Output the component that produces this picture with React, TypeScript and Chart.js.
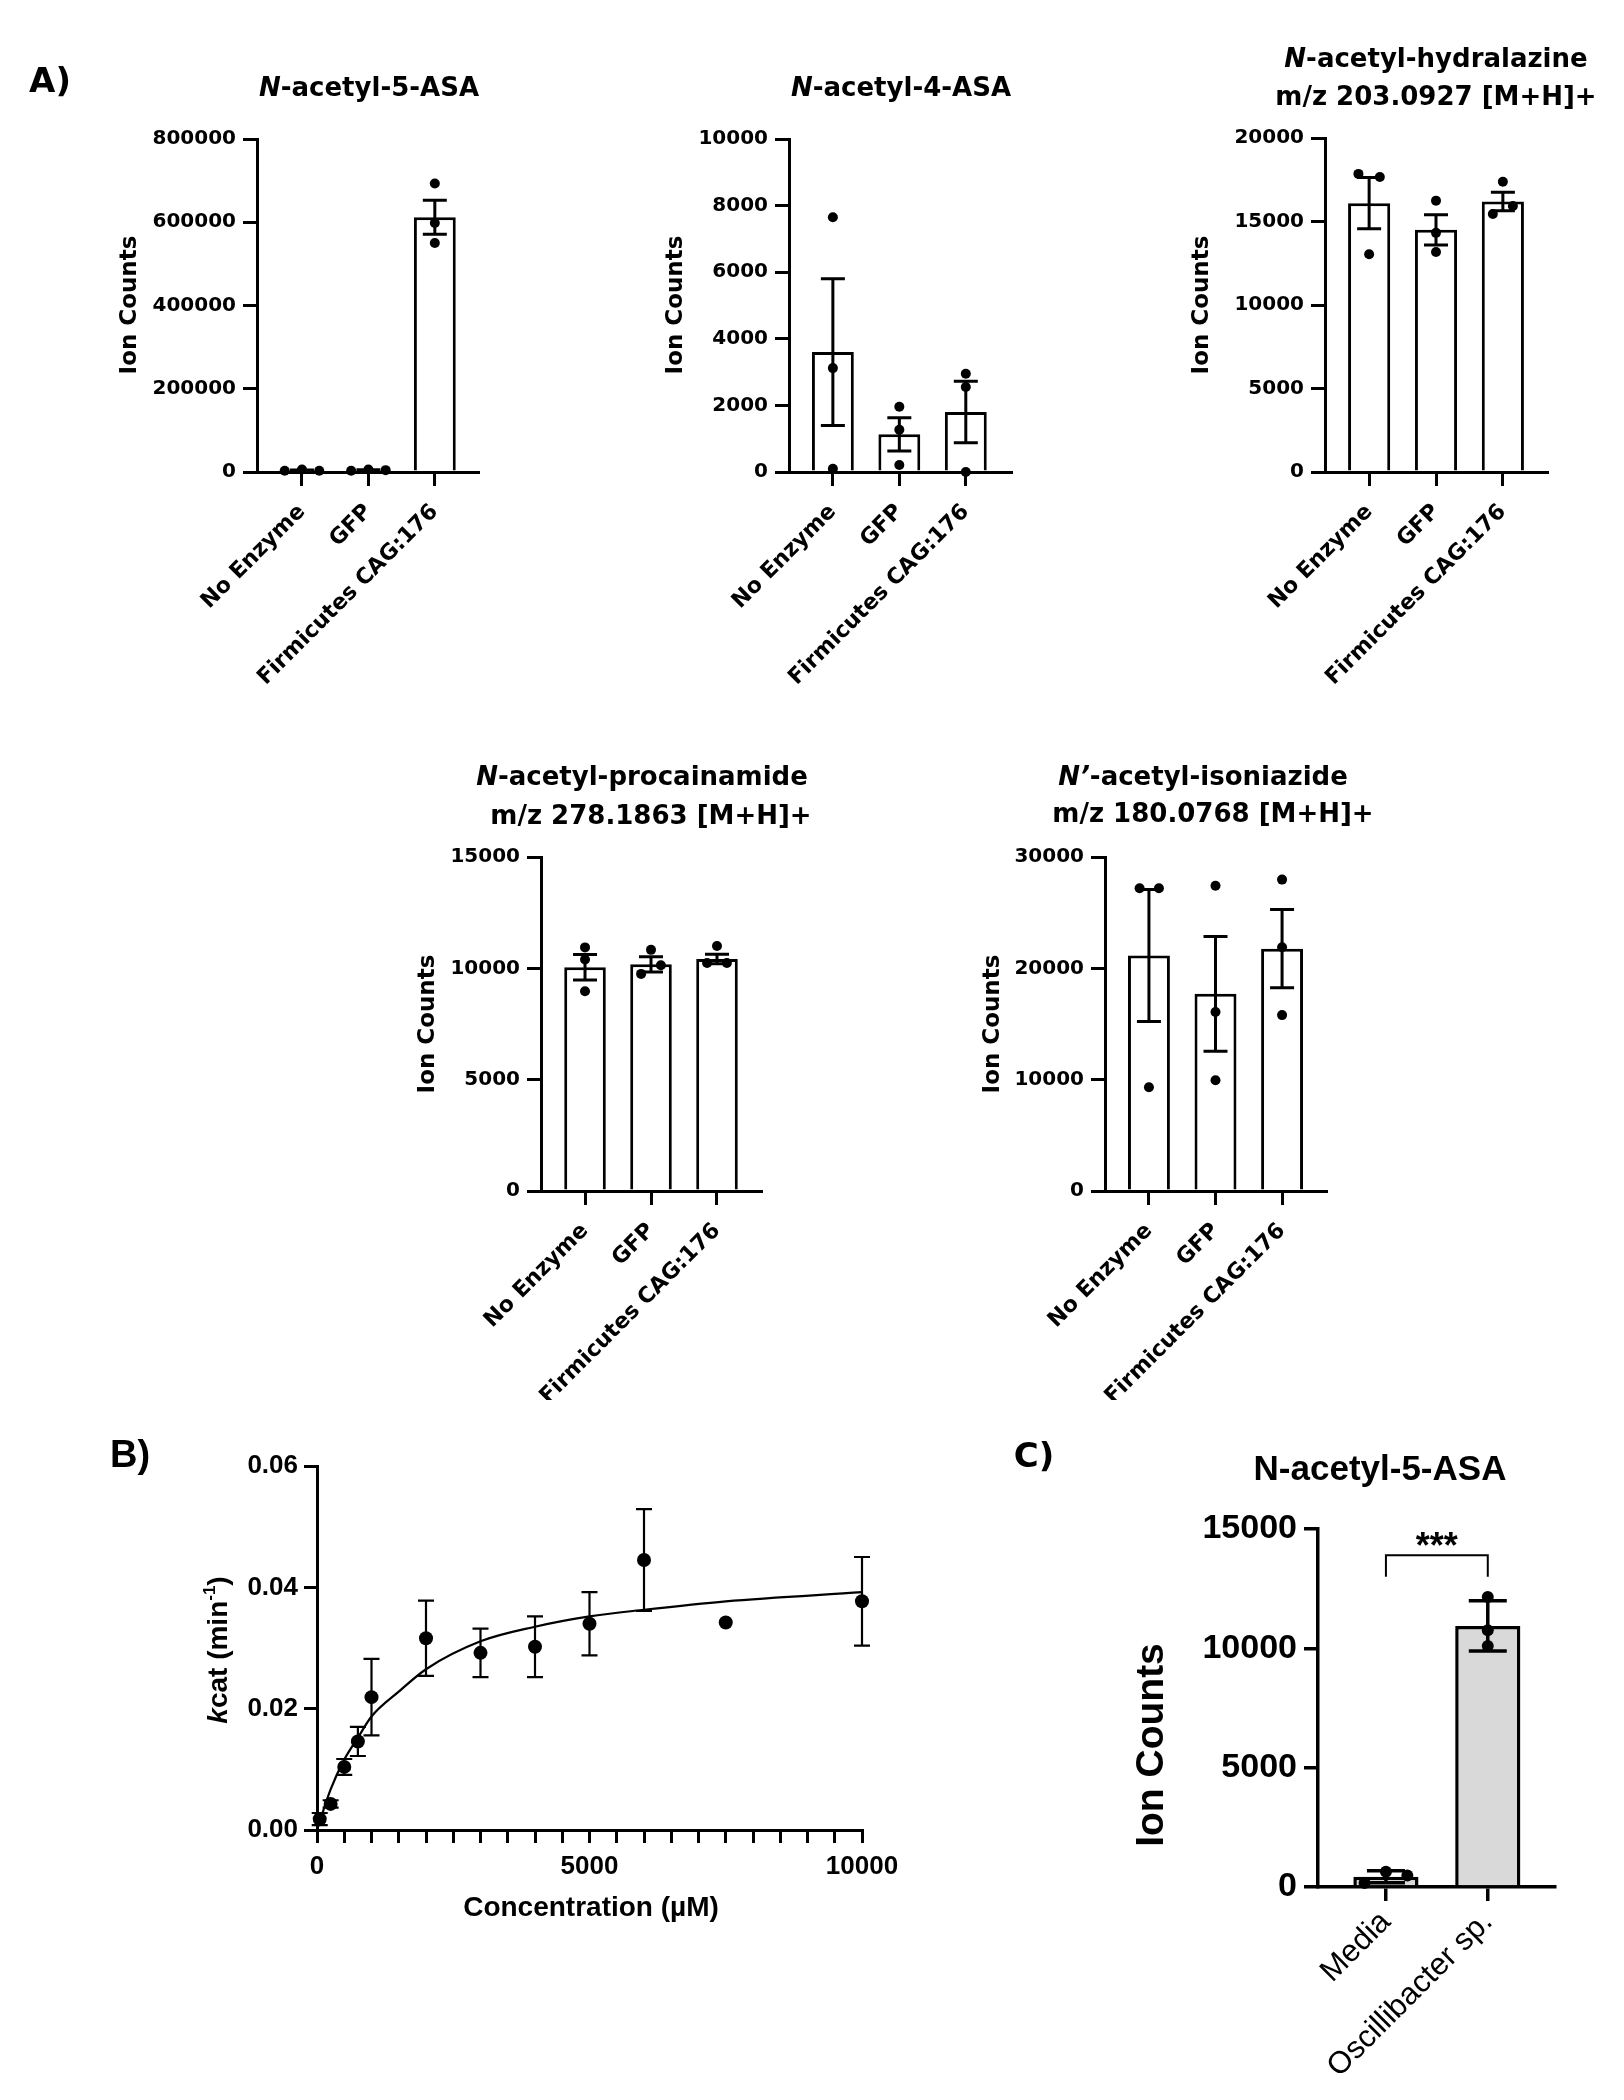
import React, { useEffect, useRef } from 'react';
import { Chart, registerables } from 'chart.js';

Chart.register(...registerables);

const WIDE = '"DejaVu Sans", Verdana, sans-serif';
const ARIAL = '"Liberation Sans", Arial, Helvetica, sans-serif';

// ---------------- Panel A data ----------------
const groups = ['No Enzyme', 'GFP', 'Firmicutes CAG:176'];

const asa5Mean = [4000, 4500, 612000];
const asa5Sem = [1100, 900, 41000];
const asa5Pts = [[2800, 6200, 3000], [3000, 6000, 4500], [693000, 598000, 550000]];
const asa5Jit = [[-0.26, 0, 0.26], [-0.26, 0, 0.26], [0, 0, 0]];
const asa5Axis = [800000, 200000];

const asa4Mean = [3600, 1130, 1800];
const asa4Sem = [2200, 500, 925];
const asa4Pts = [[7650, 3120, 100], [1960, 1270, 210], [2950, 2550, 0]];
const asa4Jit = [[0, 0, 0], [0, 0, 0], [0, 0, 0]];
const asa4Axis = [10000, 2000];

const hydMean = [16100, 14500, 16200];
const hydSem = [1540, 900, 550];
const hydPts = [[17850, 17670, 13040], [16250, 14320, 13170], [17380, 15930, 15450]];
const hydJit = [[-0.16, 0.16, 0], [0, 0, 0], [0, 0.15, -0.15]];
const hydAxis = [20000, 5000];

const procMean = [10050, 10180, 10420];
const procSem = [575, 340, 215];
const procPts = [[10940, 10400, 8970], [10830, 10140, 9750], [11000, 10240, 10240]];
const procJit = [[0, 0, 0], [0, 0.15, -0.15], [0, -0.15, 0.15]];
const procAxis = [15000, 5000];

const isoMean = [21150, 17710, 21770];
const isoSem = [5930, 5150, 3510];
const isoPts = [[27190, 27190, 9320], [27420, 16070, 9950], [27970, 21890, 15800]];
const isoJit = [[-0.14, 0.15, 0], [0, 0, 0], [0, 0, 0]];
const isoAxis = [30000, 10000];

// ---------------- Panel B data ----------------
const concUM = [50, 250, 500, 750, 1000, 2000, 3000, 4000, 5000, 6000, 7500, 10000];
const kcatVal = [0.0018, 0.0043, 0.0104, 0.0146, 0.0219, 0.0316, 0.0292, 0.0302, 0.034, 0.0445, 0.0342, 0.0377];
const kcatErr = [0.001, 0.0006, 0.0013, 0.0024, 0.0063, 0.0062, 0.004, 0.005, 0.0052, 0.0084, 0, 0.0073];
const fitConc = [0, 250, 500, 750, 1000, 1500, 2000, 3000, 4000, 5000, 6000, 7500, 10000];
const fitKcat = [0, 0.0067, 0.0116, 0.0152, 0.0187, 0.0228, 0.0265, 0.0311, 0.0335, 0.0352, 0.0363, 0.0377, 0.0392];
const bXAxis = [10000, 500, 5000];
const bYAxis = [0.06, 0.02];

// ---------------- Panel C data ----------------
const cGroups = ['Media', 'Oscillibacter sp.'];
const cMean = [430, 10940];
const cSd = [250, 1050];
const cPts = [[170, 640, 480], [12150, 10760, 10100]];
const cJit = [[-0.21, 0, 0.21], [0, 0, 0]];
const cAxis = [15000, 5000];
const cBracket = [13000, 13900];
const cSignif = '***';

// ---------------- helpers ----------------
type Run = { t: string; it?: boolean; sup?: boolean };
type TextSpec = {
  runs: Run[];
  x: number;
  y: number;
  size: number;
  family: string;
  weight?: string;
  rot?: number;
};

function drawText(ctx: CanvasRenderingContext2D, s: TextSpec, ox: number, oy: number) {
  const fontOf = (r: Run) =>
    `${r.it ? 'italic ' : ''}${s.weight ?? 'bold'} ${r.sup ? Math.round(s.size * 0.62) : s.size}px ${s.family}`;
  let total = 0;
  const widths = s.runs.map((r) => {
    ctx.font = fontOf(r);
    const w = ctx.measureText(r.t).width;
    total += w;
    return w;
  });
  ctx.save();
  ctx.translate(s.x - ox, s.y - oy);
  if (s.rot) ctx.rotate(s.rot);
  ctx.fillStyle = '#000';
  ctx.textBaseline = 'alphabetic';
  ctx.textAlign = 'left';
  let x = -total / 2;
  const base = s.size * 0.36;
  s.runs.forEach((r, i) => {
    ctx.font = fontOf(r);
    ctx.fillText(r.t, x, r.sup ? base - s.size * 0.42 : base);
    x += widths[i];
  });
  ctx.restore();
}

type Box = [number, number, number, number];
type Area = [number, number, number, number];

function textPlugin(texts: TextSpec[], box: Box, extra?: (chart: any) => void) {
  return {
    id: 'texts',
    afterDraw(chart: any) {
      const ctx = chart.ctx as CanvasRenderingContext2D;
      texts.forEach((t) => drawText(ctx, t, box[0], box[1]));
      if (extra) extra(chart);
    },
  };
}

function errPlugin(xs: number[], means: number[], err: number[], lw: number, capHalf: number) {
  return {
    id: 'errbars',
    afterDatasetsDraw(chart: any) {
      const { ctx } = chart;
      const x = chart.scales.x;
      const y = chart.scales.y;
      ctx.save();
      ctx.strokeStyle = '#000';
      ctx.lineWidth = lw;
      ctx.lineCap = 'butt';
      means.forEach((m, i) => {
        const e = err[i];
        if (!e) return;
        const px = x.getPixelForValue(xs[i]);
        const top = y.getPixelForValue(m + e);
        const bot = y.getPixelForValue(m - e);
        ctx.beginPath();
        ctx.moveTo(px, top);
        ctx.lineTo(px, bot);
        ctx.moveTo(px - capHalf, top);
        ctx.lineTo(px + capHalf, top);
        ctx.moveTo(px - capHalf, bot);
        ctx.lineTo(px + capHalf, bot);
        ctx.stroke();
      });
      ctx.restore();
    },
  };
}

type BarSpec = {
  box: Box;
  area: Area;
  xRange: [number, number];
  labels: string[];
  means: number[];
  err: number[];
  pts: number[][];
  jit: number[][];
  axis: number[];
  fill: string;
  family: string;
  tickSize: number;
  labelSize: number;
  labelWeight: string;
  labelPad: number;
  barPct: number;
  lw: number;
  r: number;
  capHalf: number;
  tickLen: number;
  texts: TextSpec[];
  extra?: (chart: any) => void;
};

function barConfig(p: BarSpec): any {
  const [bx, by, bw, bh] = p.box;
  const [l, t, r, b] = p.area;
  const pts: { x: number; y: number }[] = [];
  p.pts.forEach((arr, i) => arr.forEach((v, j) => pts.push({ x: i + p.jit[i][j], y: v })));
  const idx = p.means.map((_, i) => i);
  return {
    type: 'bar',
    data: {
      datasets: [
        {
          type: 'scatter',
          data: pts,
          backgroundColor: '#000',
          borderColor: '#000',
          borderWidth: 0,
          pointRadius: p.r,
          pointHoverRadius: p.r,
          order: 0,
          clip: false,
        },
        {
          type: 'bar',
          data: p.means.map((m, i) => ({ x: i, y: m })),
          backgroundColor: p.fill,
          borderColor: '#000',
          borderWidth: p.lw,
          categoryPercentage: 1,
          barPercentage: p.barPct,
          order: 1,
          clip: false,
        },
      ],
    },
    options: {
      animation: false,
      responsive: false,
      devicePixelRatio: 1,
      events: [],
      layout: { padding: { left: 0, top: t - by, right: bx + bw - r, bottom: 0 } },
      plugins: { legend: { display: false }, tooltip: { enabled: false }, title: { display: false } },
      scales: {
        x: {
          type: 'linear',
          min: p.xRange[0],
          max: p.xRange[1],
          offset: false,
          afterBuildTicks: (s: any) => {
            s.ticks = p.labels.map((_, i) => ({ value: i }));
          },
          afterFit: (s: any) => {
            s.height = by + bh - b;
          },
          grid: {
            offset: false,
            drawOnChartArea: false,
            drawTicks: true,
            tickLength: p.tickLen,
            color: '#000',
            lineWidth: p.lw,
          },
          border: { display: true, color: '#000', width: p.lw },
          ticks: {
            autoSkip: false,
            maxRotation: 45,
            minRotation: 45,
            padding: p.labelPad,
            color: '#000',
            font: { family: p.family, size: p.labelSize, weight: p.labelWeight },
            callback: (v: any) => (idx.includes(v) ? p.labels[v] : ''),
          },
        },
        y: {
          type: 'linear',
          min: 0,
          max: p.axis[0],
          afterFit: (s: any) => {
            s.width = l - bx;
          },
          grid: {
            drawOnChartArea: false,
            drawTicks: true,
            tickLength: p.tickLen,
            color: '#000',
            lineWidth: p.lw,
          },
          border: { display: true, color: '#000', width: p.lw },
          ticks: {
            stepSize: p.axis[1],
            padding: 7,
            color: '#000',
            font: { family: p.family, size: p.tickSize, weight: 'bold' },
            callback: (v: any) => String(v),
          },
        },
      },
    },
    plugins: [errPlugin(idx, p.means, p.err, p.lw, p.capHalf), textPlugin(p.texts, p.box, p.extra)],
  };
}

const titleRuns = (lead: string, rest: string): Run[] => [{ t: lead, it: true }, { t: rest }];
const ionLabel = (x: number, y: number, size = 23, family = WIDE): TextSpec => ({
  runs: [{ t: 'Ion Counts' }],
  x,
  y,
  size,
  family,
  rot: -Math.PI / 2,
});
const TS = 26;

const commonA = {
  labels: groups,
  fill: '#ffffff',
  family: WIDE,
  tickSize: 20,
  labelSize: 22,
  labelWeight: 'bold',
  labelPad: 13,
  barPct: 0.63,
  lw: 3,
  r: 5,
  capHalf: 12,
  tickLen: 14,
};

const panelA1: BarSpec = {
  ...commonA,
  box: [0, 0, 530, 720],
  area: [257, 139, 478, 472],
  xRange: [-0.677, 2.65],
  means: asa5Mean,
  err: asa5Sem,
  pts: asa5Pts,
  jit: asa5Jit,
  axis: asa5Axis,
  texts: [
    { runs: [{ t: 'A)' }], x: 50, y: 80, size: 34, family: WIDE },
    { runs: titleRuns('N', '-acetyl-5-ASA'), x: 369, y: 87, size: TS, family: WIDE },
    ionLabel(128, 305),
  ],
};

const panelA2: BarSpec = {
  ...commonA,
  box: [530, 0, 540, 720],
  area: [789, 139, 1011, 472],
  xRange: [-0.66, 2.68],
  means: asa4Mean,
  err: asa4Sem,
  pts: asa4Pts,
  jit: asa4Jit,
  axis: asa4Axis,
  texts: [
    { runs: titleRuns('N', '-acetyl-4-ASA'), x: 901, y: 87, size: TS, family: WIDE },
    ionLabel(674, 305),
  ],
};

const panelA3: BarSpec = {
  ...commonA,
  box: [1070, 0, 554, 720],
  area: [1325, 138, 1547, 472],
  xRange: [-0.66, 2.66],
  means: hydMean,
  err: hydSem,
  pts: hydPts,
  jit: hydJit,
  axis: hydAxis,
  texts: [
    { runs: titleRuns('N', '-acetyl-hydralazine'), x: 1436, y: 58, size: TS, family: WIDE },
    { runs: [{ t: 'm/z 203.0927 [M+H]+' }], x: 1436, y: 96, size: TS, family: WIDE },
    ionLabel(1200, 305),
  ],
};

const panelA4: BarSpec = {
  ...commonA,
  box: [300, 720, 540, 680],
  area: [541, 857, 761, 1191],
  xRange: [-0.667, 2.667],
  means: procMean,
  err: procSem,
  pts: procPts,
  jit: procJit,
  axis: procAxis,
  texts: [
    { runs: titleRuns('N', '-acetyl-procainamide'), x: 642, y: 776, size: TS, family: WIDE },
    { runs: [{ t: 'm/z 278.1863 [M+H]+' }], x: 651, y: 815, size: TS, family: WIDE },
    ionLabel(426, 1024),
  ],
};

const panelA5: BarSpec = {
  ...commonA,
  box: [840, 720, 560, 680],
  area: [1105, 857, 1326, 1191],
  xRange: [-0.66, 2.66],
  means: isoMean,
  err: isoSem,
  pts: isoPts,
  jit: isoJit,
  axis: isoAxis,
  texts: [
    { runs: titleRuns('N’', '-acetyl-isoniazide'), x: 1203, y: 776, size: TS, family: WIDE },
    { runs: [{ t: 'm/z 180.0768 [M+H]+' }], x: 1213, y: 813, size: TS, family: WIDE },
    ionLabel(991, 1024),
  ],
};

const cBox: Box = [960, 1400, 664, 700];
const panelC: BarSpec = {
  box: cBox,
  area: [1318, 1529, 1555, 1887],
  xRange: [-0.667, 1.66],
  labels: cGroups,
  means: cMean,
  err: cSd,
  pts: cPts,
  jit: cJit,
  axis: cAxis,
  fill: '#d9d9d9',
  family: ARIAL,
  tickSize: 34,
  labelSize: 31,
  labelWeight: 'normal',
  labelPad: 3,
  barPct: 0.64,
  lw: 3.5,
  r: 6,
  capHalf: 19,
  tickLen: 14,
  texts: [
    { runs: [{ t: 'C)' }], x: 1034, y: 1455, size: 34, family: WIDE },
    { runs: [{ t: 'N-acetyl-5-ASA' }], x: 1380, y: 1467, size: 35, family: ARIAL },
    ionLabel(1149, 1745, 39, ARIAL),
  ],
  extra: (chart: any) => {
    const ctx = chart.ctx as CanvasRenderingContext2D;
    const x = chart.scales.x;
    const y = chart.scales.y;
    const x0 = x.getPixelForValue(0);
    const x1 = x.getPixelForValue(1);
    const yl = y.getPixelForValue(cBracket[0]);
    const yt = y.getPixelForValue(cBracket[1]);
    ctx.save();
    ctx.strokeStyle = '#000';
    ctx.lineWidth = 2;
    ctx.beginPath();
    ctx.moveTo(x0, yl);
    ctx.lineTo(x0, yt);
    ctx.lineTo(x1, yt);
    ctx.lineTo(x1, yl);
    ctx.stroke();
    ctx.fillStyle = '#000';
    ctx.font = `bold 36px ${ARIAL}`;
    ctx.textAlign = 'center';
    ctx.textBaseline = 'alphabetic';
    ctx.fillText(cSignif, (x0 + x1) / 2, yt + 3);
    ctx.restore();
  },
};

const bBox: Box = [0, 1400, 960, 600];
const bArea: Area = [317, 1466, 862, 1830];

function kineticsConfig(): any {
  const [bx, by, bw, bh] = bBox;
  const [l, t, r, b] = bArea;
  const texts: TextSpec[] = [
    { runs: [{ t: 'B)' }], x: 130, y: 1453, size: 38, family: ARIAL },
    { runs: [{ t: 'Concentration (µM)' }], x: 591, y: 1906, size: 28, family: ARIAL },
    {
      runs: [{ t: 'k', it: true }, { t: 'cat (min' }, { t: '-1', sup: true }, { t: ')' }],
      x: 217,
      y: 1650,
      size: 28,
      family: ARIAL,
      rot: -Math.PI / 2,
    },
  ];
  return {
    type: 'scatter',
    data: {
      datasets: [
        {
          data: concUM.map((c, i) => ({ x: c, y: kcatVal[i] })),
          backgroundColor: '#000',
          borderColor: '#000',
          borderWidth: 0,
          pointRadius: 7,
          pointHoverRadius: 7,
          showLine: false,
          order: 0,
          clip: false,
        },
        {
          data: fitConc.map((c, i) => ({ x: c, y: fitKcat[i] })),
          showLine: true,
          borderColor: '#000',
          borderWidth: 2.2,
          pointRadius: 0,
          cubicInterpolationMode: 'monotone',
          fill: false,
          order: 1,
          clip: false,
        },
      ],
    },
    options: {
      animation: false,
      responsive: false,
      devicePixelRatio: 1,
      events: [],
      layout: { padding: { left: 0, top: t - by, right: bx + bw - r, bottom: 0 } },
      plugins: { legend: { display: false }, tooltip: { enabled: false }, title: { display: false } },
      scales: {
        x: {
          type: 'linear',
          min: 0,
          max: bXAxis[0],
          afterFit: (s: any) => {
            s.height = by + bh - b;
          },
          grid: { drawOnChartArea: false, drawTicks: true, tickLength: 13, color: '#000', lineWidth: 3 },
          border: { display: true, color: '#000', width: 3 },
          ticks: {
            stepSize: bXAxis[1],
            autoSkip: false,
            maxRotation: 0,
            minRotation: 0,
            padding: 8,
            color: '#000',
            font: { family: ARIAL, size: 26, weight: 'bold' },
            callback: (v: any) => (v % bXAxis[2] === 0 ? String(v) : ''),
          },
        },
        y: {
          type: 'linear',
          min: 0,
          max: bYAxis[0],
          afterFit: (s: any) => {
            s.width = l - bx;
          },
          grid: { drawOnChartArea: false, drawTicks: true, tickLength: 13, color: '#000', lineWidth: 3 },
          border: { display: true, color: '#000', width: 3 },
          ticks: {
            stepSize: bYAxis[1],
            padding: 6,
            color: '#000',
            font: { family: ARIAL, size: 26, weight: 'bold' },
            callback: (v: any) => Number(v).toFixed(2),
          },
        },
      },
    },
    plugins: [errPlugin(concUM, kcatVal, kcatErr, 2.2, 8), textPlugin(texts, bBox)],
  };
}

function ChartCanvas({ box, make }: { box: Box; make: () => any }) {
  const ref = useRef<HTMLCanvasElement | null>(null);
  useEffect(() => {
    if (!ref.current) return;
    const chart = new Chart(ref.current, make());
    return () => chart.destroy();
  }, []);
  return (
    <canvas
      ref={ref}
      width={box[2]}
      height={box[3]}
      style={{ position: 'absolute', left: box[0], top: box[1], width: box[2], height: box[3] }}
    />
  );
}

export default function App() {
  const bars = [panelA1, panelA2, panelA3, panelA4, panelA5, panelC];
  return (
    <div style={{ position: 'absolute', left: 0, top: 0, width: 1624, height: 2100, background: '#fff' }}>
      {bars.map((p, i) => (
        <ChartCanvas key={i} box={p.box} make={() => barConfig(p)} />
      ))}
      <ChartCanvas box={bBox} make={kineticsConfig} />
    </div>
  );
}
